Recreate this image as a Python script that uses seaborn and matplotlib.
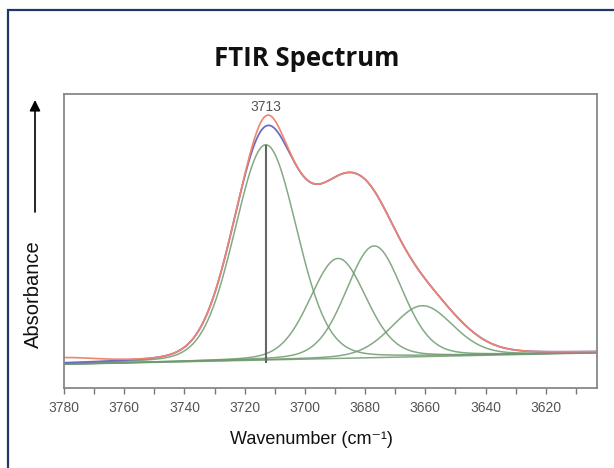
import numpy as np
import pandas as pd
import matplotlib
matplotlib.use("Agg")
import matplotlib.pyplot as plt
from matplotlib.patches import Rectangle, FancyArrowPatch
import seaborn as sns

# ---- data (peak-fit parameters, absorbance in arbitrary units) ----
x_ticks = [3780, 3760, 3740, 3720, 3700, 3680, 3660, 3640, 3620]
x_range = [3780, 3603]
baseline_ends = [0.0807, 0.1195]            # baseline at 3780 and at 3603

# fitted envelope (blue)
fit_centers = [3713.4, 3690.5, 3677.7, 3658.9]
fit_heights = [0.744, 0.356, 0.353, 0.156]
fit_fwhm = [24.8, 25.1, 24.9, 26.3]
fit_eta = [0.133, 0.133, 0.133, 0.133]

# measured spectrum (red) = same bands plus small extra features
meas_centers = [3713.4, 3690.5, 3677.7, 3658.9, 3712.5, 3782.0]
meas_heights = [0.744, 0.356, 0.353, 0.156, 0.035, 0.018]
meas_fwhm = [24.8, 25.1, 24.9, 26.3, 9.0, 28.0]
meas_eta = [0.133, 0.133, 0.133, 0.133, 0.0, 0.0]

# individual components (green)
comp_centers = [3713.0, 3689.0, 3677.0, 3661.0]
comp_heights = [0.732, 0.340, 0.380, 0.173]
comp_fwhm = [24.3, 22.0, 22.0, 24.0]
comp_eta = [0.13, 0.18, 0.18, 0.2]

peak_label = 3713
peak_line = [0.085, 0.827]

def pv(x, c, h, w, eta):
    z = (2 * (x - c) / w) ** 2
    return h * ((1 - eta) * np.exp(-np.log(2) * z) + eta / (1 + z))

x = np.linspace(x_range[0], x_range[1], 800)
base = baseline_ends[0] + (baseline_ends[1] - baseline_ends[0]) * (x_range[0] - x) / (x_range[0] - x_range[1])
fit = base + sum(pv(x, c, h, w, e) for c, h, w, e in zip(fit_centers, fit_heights, fit_fwhm, fit_eta))
meas = base + sum(pv(x, c, h, w, e) for c, h, w, e in zip(meas_centers, meas_heights, meas_fwhm, meas_eta))

sns.set_theme(style="white")
plt.rcParams['font.family'] = ['Liberation Sans', 'DejaVu Sans']

W, H = 614, 468
fig = plt.figure(figsize=(W / 100, H / 100), dpi=100)
fig.patch.set_facecolor("white")

# navy frame (left & top visible)
fig.add_artist(Rectangle((8 / W, -0.2), 1.5, 1 - 10 / H + 0.2, transform=fig.transFigure,
                         fill=False, edgecolor="#1f3864", lw=1.6))

ax = fig.add_axes([64 / W, 1 - 388 / H, (597 - 64) / W, (388 - 94) / H])

green = "#6f9a6f"
for c, h, w, e in zip(comp_centers, comp_heights, comp_fwhm, comp_eta):
    sns.lineplot(x=x, y=base + pv(x, c, h, w, e), ax=ax, color=green, lw=1.1, alpha=0.85,
                 sort=False, estimator=None)
sns.lineplot(x=x, y=base, ax=ax, color=green, lw=1.1, alpha=0.85, sort=False, estimator=None)
sns.lineplot(x=x, y=fit, ax=ax, color="#6c6cc0", lw=1.3, sort=False, estimator=None)
sns.lineplot(x=x, y=meas, ax=ax, color="#f2846c", lw=1.2, sort=False, estimator=None)

ax.vlines(peak_label, peak_line[0], peak_line[1], color="#666666", lw=1.5, zorder=5)
ax.text(peak_label, 0.957, str(peak_label), ha="center", va="center", fontsize=10, color="#555555")

ax.set_xlim(x_range[0], x_range[1])
ax.set_ylim(0, 1)
ax.set_xticks(x_ticks)
ax.set_xticks(np.arange(3770, 3603, -20), minor=True)
ax.set_xticklabels([str(t) for t in x_ticks])
ax.set_yticks([])
ax.set_xlabel("")
ax.set_ylabel("")
for s in ax.spines.values():
    s.set_visible(True)
    s.set_color("#888888")
    s.set_linewidth(1.3)
ax.tick_params(axis="x", which="both", direction="out", color="#777777", width=1.0,
               labelsize=10, labelcolor="#555555", bottom=True)
ax.tick_params(axis="x", which="major", length=4, pad=5.5)
ax.tick_params(axis="x", which="minor", length=4)

fig.text(307 / W, 1 - 58 / H, "FTIR Spectrum", ha="center", va="center", fontsize=18.5,
         fontweight="bold", family=["Open Sans", "DejaVu Sans"], color="#111111")
fig.text(311 / W, 1 - 440 / H, "Wavenumber (cm\u207b\u00b9)", ha="center", va="center",
         fontsize=13, color="#111111")
fig.text(33 / W, 1 - 294 / H, "Absorbance", ha="center", va="center", rotation=90,
         fontsize=14.5, color="#111111")
fig.add_artist(FancyArrowPatch((35 / W, 1 - 212 / H), (35 / W, 1 - 100 / H), transform=fig.transFigure,
                               arrowstyle="-|>", mutation_scale=16, lw=1.2, color="black",
                               shrinkA=0, shrinkB=0))

fig.savefig("out.png", dpi=100, facecolor="white")
